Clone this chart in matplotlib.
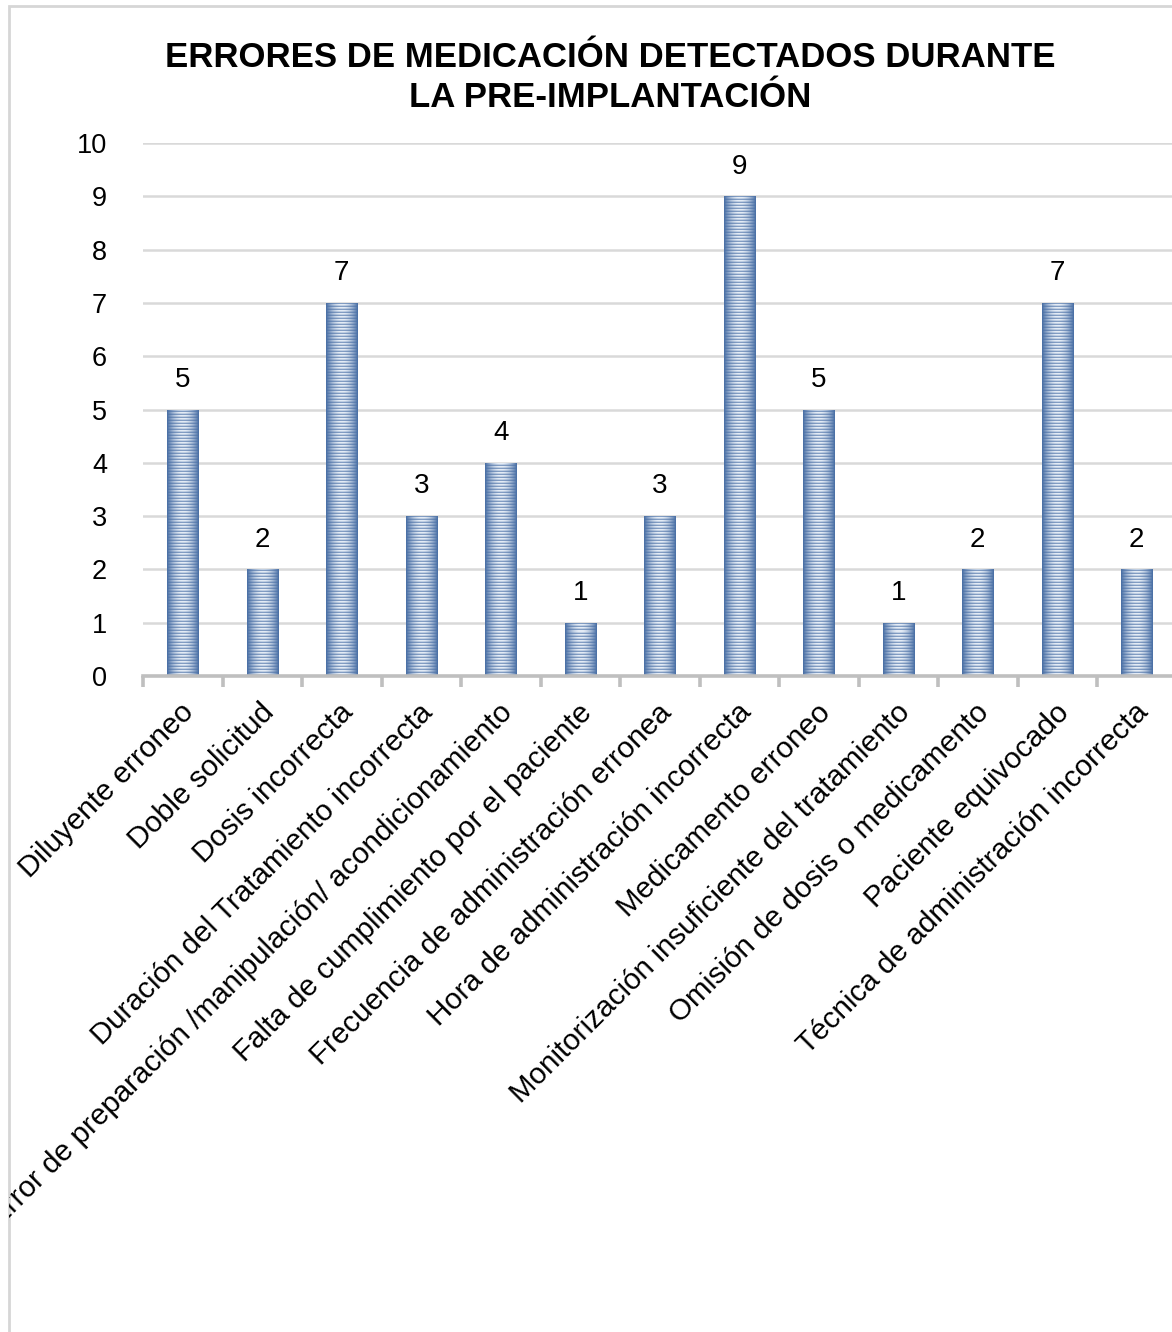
import numpy as np
import matplotlib
matplotlib.use("Agg")
import matplotlib.pyplot as plt
from matplotlib.patches import Rectangle
from matplotlib.colors import to_rgb

plt.rcParams['font.family'] = ['Liberation Sans', 'DejaVu Sans']

categories = [
    "Diluyente erroneo",
    "Doble solicitud",
    "Dosis incorrecta",
    "Duración del Tratamiento incorrecta",
    "Error de preparación /manipulación/ acondicionamiento",
    "Falta de cumplimiento por el paciente",
    "Frecuencia de administración erronea",
    "Hora de administración incorrecta",
    "Medicamento erroneo",
    "Monitorización insuficiente del tratamiento",
    "Omisión de dosis o medicamento",
    "Paciente equivocado",
    "Técnica de administración incorrecta",
]
values = [5, 2, 7, 3, 4, 1, 3, 9, 5, 1, 2, 7, 2]
y_ticks = list(range(0, 11))
title = "ERRORES DE MEDICACIÓN DETECTADOS DURANTE\nLA PRE-IMPLANTACIÓN"

W, H = 1172, 1332
fig = plt.figure(figsize=(W / 100, H / 100), dpi=100)

# outer chart frame (runs off the right and bottom edges)
frame = Rectangle((8.5 / W, -0.05), 1.2, 1 - 5.5 / H + 0.05,
                  transform=fig.transFigure, fill=False,
                  edgecolor='#d6d6d6', lw=2.0, zorder=0)
fig.add_artist(frame)

left, right = 143 / W, 1176.5 / W
bottom, top = 1 - 676 / H, 1 - 143 / H
ax = fig.add_axes([left, bottom, right - left, top - bottom])

n = len(categories)
x = np.arange(n)
bar_w = 0.39
bars = ax.bar(x, values, width=bar_w, color='none', edgecolor='none', zorder=3)

# horizontally shaded, finely striped fill for every bar
dark = np.array(to_rgb('#3f67a0'))
light = np.array(to_rgb('#e3ebf5'))
ncols = 32
nrows = 534
tcol = np.abs(np.linspace(-1, 1, ncols))
prof = 1 - tcol ** 1.8
stripe = np.array([0.35, 0.75, 1.0])
img = np.zeros((nrows, ncols, 3))
for r in range(nrows):
    s = stripe[r % 3]
    mix = np.clip(prof * s * 0.95 + 0.08, 0, 1)
    img[r] = dark[None, :] * (1 - mix[:, None]) + light[None, :] * mix[:, None]

for rect in bars:
    x0 = rect.get_x()
    x1 = x0 + rect.get_width()
    im = ax.imshow(img, extent=(x0, x1, 0, 10), origin='lower',
                   aspect='auto', interpolation='nearest', zorder=3)
    im.set_clip_path(rect)

for xi, v in zip(x, values):
    ax.annotate(str(v), (xi, v), xytext=(0, 12), textcoords='offset points',
                ha='center', va='bottom', fontsize=20, color='black')

ax.set_xlim(-0.5, n - 0.5)
ax.set_ylim(0, 10)
ax.set_yticks(y_ticks)
ax.set_yticklabels([str(t) for t in y_ticks], fontsize=19.5)
ax.yaxis.grid(True, color='#d9d9d9', lw=1.8, zorder=0)
ax.set_axisbelow(True)
ax.tick_params(axis='y', length=0, pad=26)

for side in ('top', 'right', 'left'):
    ax.spines[side].set_visible(False)
ax.spines['bottom'].set_color('#bfbfbf')
ax.spines['bottom'].set_linewidth(2.6)
ax.spines['bottom'].set_zorder(4)

# category boundary ticks on the x axis
ax.set_xticks(np.arange(-0.5, n, 1.0), minor=False)
ax.set_xticklabels([])
ax.tick_params(axis='x', length=8, width=2.6, color='#bfbfbf', direction='out')
for xi, lab in zip(x, categories):
    t = ax.annotate(lab, (xi, 0), xytext=(-2, -16), textcoords='offset points',
                    rotation=45, rotation_mode='anchor', ha='right', va='top',
                    fontsize=21.3, color='black', annotation_clip=False)
    t.set_clip_path(frame)

fig.text(610.5 / W, 1 - 77.5 / H, title, ha='center', va='center',
         fontsize=25, fontweight='bold', linespacing=1.25)

fig.savefig('out.png', dpi=100, facecolor='white')
